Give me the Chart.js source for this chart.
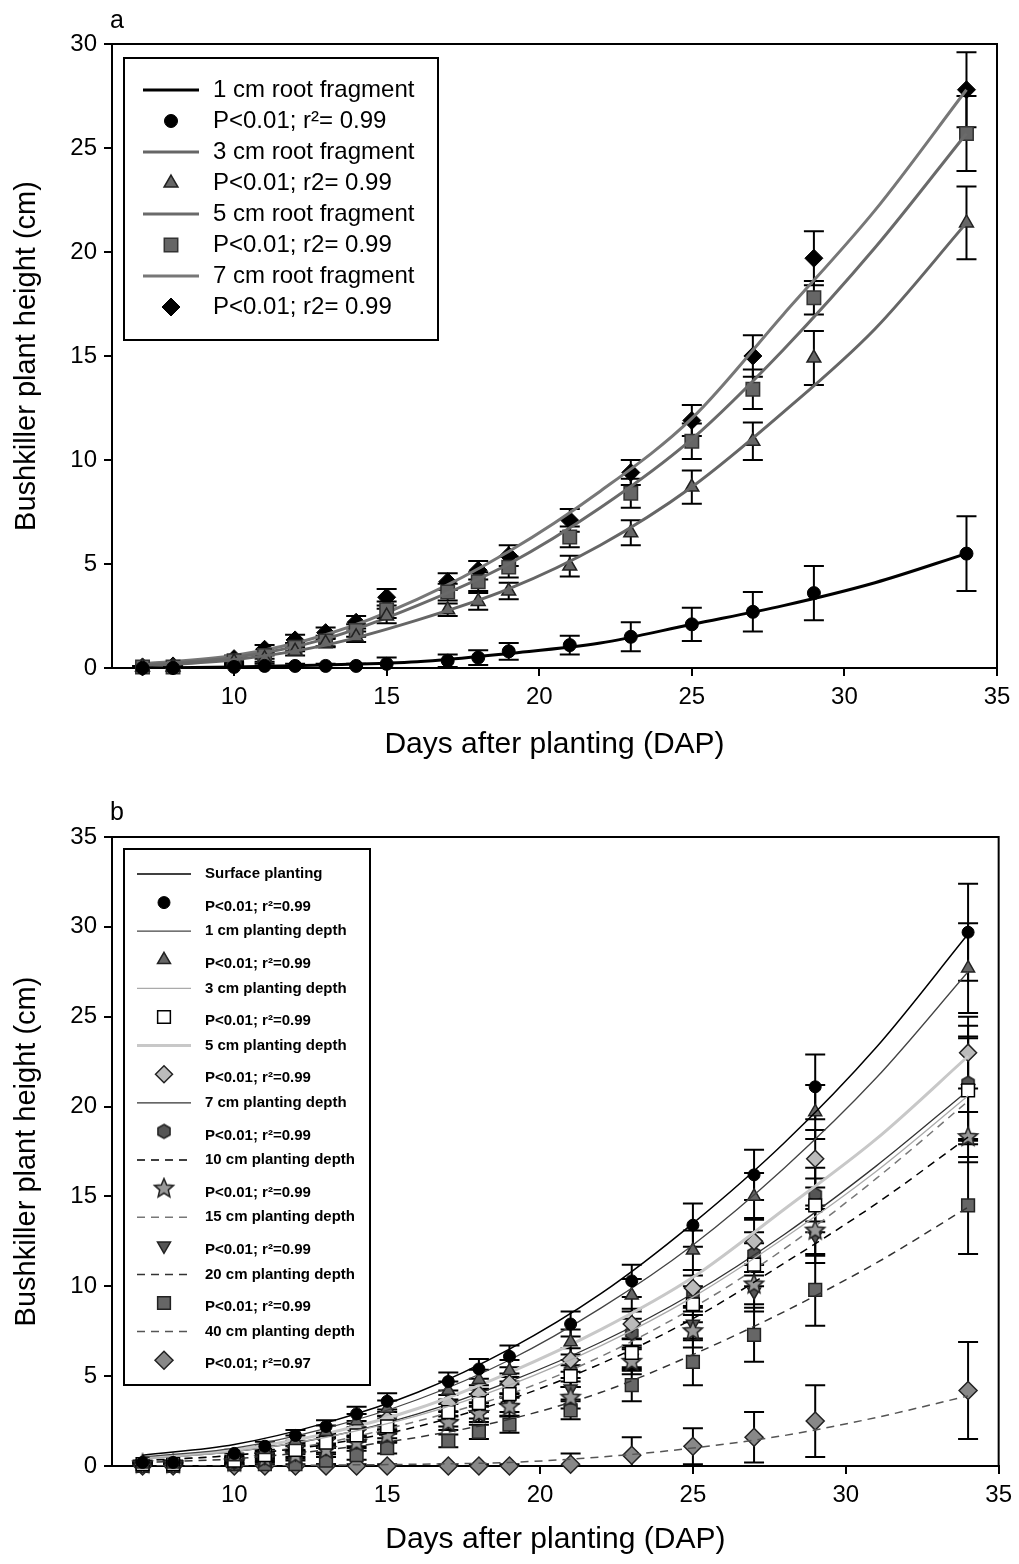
<!DOCTYPE html>
<html>
<head>
<meta charset="utf-8">
<script src="https://cdn.jsdelivr.net/npm/chart.js@4.4.1/dist/chart.umd.min.js"></script>
<style>
  body { margin: 0; background: #fff; }
  .panel { position: absolute; left: 0; width: 1019px; height: 782px; }
  #wrapA { top: 0; }
  #wrapB { top: 782px; }
</style>
</head>
<body>
<div class="panel" id="wrapA"><canvas id="chartA" width="1019" height="782"></canvas></div>
<div class="panel" id="wrapB"><canvas id="chartB" width="1019" height="782"></canvas></div>
<script>
const days = [7, 8, 10, 11, 12, 13, 14, 15, 17, 18, 19, 21, 23, 25, 27, 29, 34];
const fitDays = [7, 10, 13, 16, 19, 22, 25, 28, 31, 34];
const xTicks = [10, 15, 20, 25, 30, 35];
const yTicksA = [0, 5, 10, 15, 20, 25, 30];
const yTicksB = [0, 5, 10, 15, 20, 25, 30, 35];

// ---- panel a : root fragment length ----
const namesA = ['1 cm root fragment', '3 cm root fragment', '5 cm root fragment', '7 cm root fragment'];
const statsA = ['P<0.01; r²= 0.99', 'P<0.01; r2= 0.99', 'P<0.01; r2= 0.99', 'P<0.01; r2= 0.99'];

const frag1 = [0.0, 0.0, 0.05, 0.1, 0.1, 0.1, 0.1, 0.2, 0.35, 0.5, 0.8, 1.1, 1.5, 2.1, 2.7, 3.6, 5.5];
const frag3 = [0.05, 0.05, 0.3, 0.45, 0.8, 1.2, 1.5, 2.5, 2.8, 3.2, 3.7, 4.9, 6.5, 8.7, 10.9, 14.9, 21.4];
const frag5 = [0.05, 0.05, 0.35, 0.6, 1.0, 1.3, 1.8, 2.8, 3.65, 4.15, 4.85, 6.3, 8.4, 10.9, 13.4, 17.8, 25.7];
const frag7 = [0.05, 0.1, 0.45, 0.9, 1.35, 1.7, 2.2, 3.4, 4.15, 4.7, 5.4, 7.1, 9.4, 11.9, 15.0, 19.7, 27.8];

const errFrag1 = [0.1, 0.1, 0.1, 0.1, 0.1, 0.1, 0.1, 0.3, 0.3, 0.35, 0.4, 0.45, 0.7, 0.8, 0.95, 1.3, 1.8];
const errFrag3 = [0.05, 0.05, 0.1, 0.15, 0.2, 0.2, 0.25, 0.35, 0.3, 0.4, 0.4, 0.5, 0.6, 0.8, 0.9, 1.3, 1.75];
const errFrag5 = [0.05, 0.05, 0.1, 0.15, 0.2, 0.25, 0.3, 0.4, 0.4, 0.45, 0.5, 0.5, 0.7, 0.85, 0.95, 0.8, 1.8];
const errFrag7 = [0.05, 0.05, 0.15, 0.2, 0.25, 0.25, 0.3, 0.4, 0.4, 0.45, 0.5, 0.55, 0.6, 0.75, 1.0, 1.3, 1.8];

const fitFrag1 = [0.0, 0.05, 0.15, 0.3, 0.7, 1.2, 2.1, 3.0, 4.1, 5.5];
const fitFrag3 = [0.1, 0.4, 1.1, 2.3, 3.8, 5.9, 8.7, 12.3, 16.3, 21.4];
const fitFrag5 = [0.15, 0.5, 1.4, 3.0, 5.0, 7.7, 11.0, 15.3, 20.2, 25.7];
const fitFrag7 = [0.2, 0.6, 1.6, 3.3, 5.6, 8.5, 12.0, 17.0, 22.0, 27.8];

// ---- panel b : planting depth ----
const namesB = ['Surface planting', '1 cm planting depth', '3 cm planting depth', '5 cm planting depth',
  '7 cm planting depth', '10 cm planting depth', '15 cm planting depth', '20 cm planting depth', '40 cm planting depth'];
const statsB = ['P<0.01; r²=0.99', 'P<0.01; r²=0.99', 'P<0.01; r²=0.99', 'P<0.01; r²=0.99', 'P<0.01; r²=0.99',
  'P<0.01; r²=0.99', 'P<0.01; r²=0.99', 'P<0.01; r²=0.99', 'P<0.01; r²=0.97'];

const depth0 = [0.2, 0.2, 0.7, 1.1, 1.7, 2.2, 2.9, 3.6, 4.7, 5.4, 6.1, 7.9, 10.3, 13.4, 16.2, 21.1, 29.7];
const depth1 = [0.1, 0.1, 0.5, 0.9, 1.4, 1.9, 2.5, 3.2, 4.2, 4.8, 5.3, 6.9, 9.5, 12.0, 15.0, 19.7, 27.7];
const depth3 = [0.1, 0.1, 0.3, 0.6, 0.9, 1.3, 1.7, 2.2, 3.0, 3.5, 4.0, 5.0, 6.3, 9.0, 11.2, 14.5, 20.9];
const depth5 = [0.1, 0.1, 0.4, 0.7, 1.1, 1.5, 2.0, 2.6, 3.5, 4.0, 4.6, 5.9, 7.9, 9.9, 12.5, 17.1, 23.0];
const depth7 = [0.1, 0.1, 0.3, 0.6, 1.0, 1.4, 1.8, 2.4, 3.2, 3.8, 4.4, 5.3, 7.4, 9.6, 11.8, 15.1, 21.3];
const depth10 = [0.1, 0.1, 0.2, 0.4, 0.6, 0.9, 1.3, 1.7, 2.4, 2.9, 3.3, 3.8, 5.8, 7.5, 10.1, 13.1, 18.3];
const depth15 = [0.1, 0.1, 0.2, 0.5, 0.7, 1.0, 1.4, 1.9, 2.6, 3.1, 3.5, 4.3, 6.0, 7.9, 9.7, 12.8, 21.0];
const depth20 = [0.0, 0.0, 0.1, 0.1, 0.1, 0.3, 0.6, 1.0, 1.4, 1.9, 2.3, 3.1, 4.5, 5.8, 7.3, 9.8, 14.5];
const depth40 = [0, 0, 0, 0, 0, 0, 0, 0, 0, 0, 0, 0.1, 0.6, 1.1, 1.6, 2.5, 4.2];

const errDepth0 = [0.1, 0.1, 0.2, 0.25, 0.3, 0.35, 0.4, 0.45, 0.5, 0.55, 0.6, 0.7, 0.9, 1.2, 1.4, 1.8, 2.7];
const errDepth1 = [0.1, 0.1, 0.2, 0.25, 0.3, 0.35, 0.4, 0.45, 0.5, 0.55, 0.6, 0.7, 0.9, 1.1, 1.3, 1.5, 2.5];
const errDepth3 = [0.1, 0.1, 0.15, 0.2, 0.25, 0.3, 0.35, 0.4, 0.45, 0.5, 0.55, 0.6, 0.8, 1.0, 1.2, 1.5, 3.0];
const errDepth5 = [0.1, 0.1, 0.15, 0.2, 0.25, 0.3, 0.35, 0.4, 0.45, 0.5, 0.55, 0.65, 0.85, 1.0, 1.3, 1.6, 2.0];
const errDepth7 = [0.1, 0.1, 0.15, 0.2, 0.25, 0.3, 0.35, 0.4, 0.45, 0.5, 0.55, 0.6, 0.8, 1.0, 1.2, 1.5, 3.2];
const errDepth10 = [0.1, 0.1, 0.15, 0.2, 0.2, 0.25, 0.3, 0.35, 0.4, 0.45, 0.5, 0.6, 0.7, 0.9, 1.1, 1.4, 1.4];
const errDepth15 = [0.1, 0.1, 0.15, 0.2, 0.2, 0.25, 0.3, 0.35, 0.4, 0.45, 0.5, 0.6, 0.7, 0.9, 1.1, 1.5, 2.8];
const errDepth20 = [0.1, 0.1, 0.1, 0.15, 0.2, 0.2, 0.25, 0.3, 0.35, 0.4, 0.45, 0.5, 0.9, 1.3, 1.5, 2.0, 2.7];
const errDepth40 = [0.1, 0.1, 0.1, 0.1, 0.1, 0.1, 0.1, 0.1, 0.1, 0.1, 0.1, 0.6, 1.0, 1.0, 1.4, 2.0, 2.7];

const fitDepth0 = [0.6, 1.2, 2.4, 4.1, 6.5, 9.6, 13.5, 18.0, 23.3, 29.6];
const fitDepth1 = [0.5, 1.0, 2.1, 3.7, 5.9, 8.8, 12.3, 16.6, 21.6, 27.5];
const fitDepth3 = [0.4, 0.8, 1.6, 2.8, 4.5, 6.7, 9.4, 12.7, 16.4, 20.6];
const fitDepth5 = [0.4, 0.9, 1.8, 3.2, 5.2, 7.6, 10.5, 14.3, 18.2, 22.8];
const fitDepth7 = [0.4, 0.8, 1.6, 2.9, 4.7, 6.9, 9.6, 12.9, 16.7, 20.9];
const fitDepth10 = [0.3, 0.6, 1.2, 2.2, 3.7, 5.7, 8.2, 11.3, 14.6, 18.3];
const fitDepth15 = [0.3, 0.6, 1.3, 2.5, 4.0, 6.1, 8.8, 12.1, 16.0, 20.3];
const fitDepth20 = [0.2, 0.4, 0.9, 1.6, 2.6, 4.1, 6.2, 8.6, 11.3, 14.4];
const fitDepth40 = [0.0, 0.0, 0.05, 0.1, 0.2, 0.5, 1.0, 1.7, 2.7, 3.9];

const FONT = "'Liberation Sans', Arial, sans-serif";

function pts(xs, ys) {
  return xs.map((x, i) => ({ x, y: ys[i] }));
}

// small canvases used as marker shapes that Chart.js lacks
function polyMarker(n, r, fill, stroke, inner) {
  const size = Math.ceil(r * 2 + 4);
  const c = document.createElement('canvas');
  c.width = size; c.height = size;
  const g = c.getContext('2d');
  const cx = size / 2, cy = size / 2;
  g.beginPath();
  const steps = inner ? n * 2 : n;
  for (let i = 0; i < steps; i++) {
    const a = -Math.PI / 2 + i * Math.PI * 2 / steps;
    const rr = inner && i % 2 ? r * inner : r;
    const px = cx + rr * Math.cos(a), py = cy + rr * Math.sin(a);
    if (i === 0) g.moveTo(px, py); else g.lineTo(px, py);
  }
  g.closePath();
  g.fillStyle = fill; g.fill();
  g.lineWidth = 1.5; g.strokeStyle = stroke; g.stroke();
  return c;
}

function seriesPair(name, stat, vals, errs, fit, line, mark) {
  return [
    {
      label: name, data: pts(fitDays, fit), borderColor: line.color, borderWidth: line.width,
      borderDash: line.dash || [], pointRadius: 0, cubicInterpolationMode: 'monotone', fill: false,
      legendLine: line
    },
    {
      label: stat, data: pts(days, vals), errors: errs, showLine: false, clip: false,
      pointStyle: mark.style, pointRadius: mark.r, pointRotation: mark.rot || 0,
      pointBackgroundColor: mark.fill, pointBorderColor: mark.stroke, pointBorderWidth: mark.bw,
      legendMark: mark
    }
  ];
}

const frame = {
  id: 'frame',
  beforeDatasetsDraw(chart) {
    const { ctx, chartArea: a } = chart;
    ctx.save();
    ctx.strokeStyle = '#000';
    ctx.lineWidth = 2;
    ctx.strokeRect(a.left, a.top, a.right - a.left, a.bottom - a.top);
    ctx.restore();
  }
};

const errorBars = {
  id: 'errorBars',
  beforeDatasetsDraw(chart, args, opts) {
    const { ctx, scales: { x, y } } = chart;
    ctx.save();
    ctx.strokeStyle = '#000';
    ctx.lineWidth = opts.width;
    chart.data.datasets.forEach(ds => {
      if (!ds.errors) return;
      ds.data.forEach((p, i) => {
        const e = ds.errors[i];
        if (!e) return;
        const px = x.getPixelForValue(p.x);
        const top = y.getPixelForValue(p.y + e);
        const bot = y.getPixelForValue(Math.max(p.y - e, 0));
        ctx.beginPath();
        ctx.moveTo(px, top); ctx.lineTo(px, bot);
        ctx.moveTo(px - opts.cap, top); ctx.lineTo(px + opts.cap, top);
        ctx.moveTo(px - opts.cap, bot); ctx.lineTo(px + opts.cap, bot);
        ctx.stroke();
      });
    });
    ctx.restore();
  }
};

const boxLegend = {
  id: 'boxLegend',
  afterDraw(chart, args, o) {
    const ctx = chart.ctx;
    ctx.save();
    ctx.fillStyle = '#fff';
    ctx.fillRect(o.left, o.top, o.right - o.left, o.bottom - o.top);
    ctx.strokeStyle = '#000';
    ctx.lineWidth = 2;
    ctx.strokeRect(o.left, o.top, o.right - o.left, o.bottom - o.top);
    ctx.font = o.font;
    ctx.textBaseline = 'middle';
    chart.data.datasets.forEach((ds, i) => {
      const yy = o.firstRow + i * o.step;
      if (ds.legendLine) {
        const l = ds.legendLine;
        ctx.save();
        ctx.strokeStyle = l.color;
        ctx.lineWidth = l.width;
        ctx.setLineDash(l.dash || []);
        ctx.beginPath();
        ctx.moveTo(o.symX1, yy); ctx.lineTo(o.symX2, yy);
        ctx.stroke();
        ctx.restore();
        ctx.fillStyle = '#000';
        ctx.fillText(ds.label, o.textX, yy);
      } else {
        const m = ds.legendMark;
        ctx.save();
        ctx.fillStyle = m.fill;
        ctx.strokeStyle = m.stroke;
        ctx.lineWidth = m.bw;
        Chart.helpers.drawPoint(ctx, { pointStyle: m.style, radius: m.r, rotation: m.rot || 0, borderWidth: m.bw },
          (o.symX1 + o.symX2) / 2, yy);
        ctx.restore();
        ctx.fillStyle = '#000';
        ctx.fillText(ds.label, o.textX, yy + o.statDy);
      }
    });
    // panel letter
    ctx.font = o.tagFont;
    ctx.textBaseline = 'alphabetic';
    ctx.fillText(o.tag, o.tagX, o.tagY);
    ctx.restore();
  }
};

function makeOptions(cfg) {
  return {
    responsive: false,
    animation: false,
    devicePixelRatio: 1,
    layout: { padding: { top: cfg.top, right: cfg.right, left: 0, bottom: 0 } },
    plugins: {
      legend: { display: false },
      tooltip: { enabled: false },
      errorBars: { width: 2, cap: 10 },
      boxLegend: cfg.legend
    },
    scales: {
      x: {
        type: 'linear', min: 6, max: 35,
        afterBuildTicks: axis => { axis.ticks = xTicks.map(v => ({ value: v })); },
        afterFit: s => { s.height = cfg.xHeight; },
        border: { display: true, color: '#000', width: 2 },
        grid: { display: true, drawOnChartArea: false, drawTicks: true, tickLength: 8, color: '#000', lineWidth: 2 },
        ticks: { color: '#000', font: { family: FONT, size: 24 }, padding: 7, maxRotation: 0 },
        title: { display: true, text: 'Days after planting (DAP)', color: '#000',
          font: { family: FONT, size: 30 }, padding: { top: 0, bottom: cfg.xTitlePad } }
      },
      y: {
        min: 0, max: cfg.yMax,
        afterBuildTicks: axis => { axis.ticks = cfg.yTicks.map(v => ({ value: v })); },
        afterFit: s => { s.width = 112; },
        border: { display: true, color: '#000', width: 2 },
        grid: { display: true, drawOnChartArea: false, drawTicks: true, tickLength: 8, color: '#000', lineWidth: 2 },
        ticks: { color: '#000', font: { family: FONT, size: 24 }, padding: 7 },
        title: { display: true, text: 'Bushkiller plant height (cm)', color: '#000',
          font: { family: FONT, size: 29 }, padding: { top: 10, bottom: 0 } }
      }
    }
  };
}

// ---- styles (kept apart from the data) ----
const lineA = [
  { color: '#000', width: 3 },
  { color: '#666', width: 3 },
  { color: '#6a6a6a', width: 3 },
  { color: '#777', width: 3 }
];
const markA = [
  { style: 'circle', r: 6.5, fill: '#000', stroke: '#000', bw: 1 },
  { style: 'triangle', r: 8, fill: '#666', stroke: '#222', bw: 1.5 },
  { style: 'rect', r: 9.5, fill: '#666', stroke: '#333', bw: 1.5 },
  { style: 'rectRot', r: 9, fill: '#000', stroke: '#000', bw: 1 }
];

const hexMark = polyMarker(6, 7, '#555', '#222');
const starMark = polyMarker(5, 10, '#999', '#222', 0.45);

const lineB = [
  { color: '#000', width: 1.5 },
  { color: '#444', width: 1.3 },
  { color: '#aaa', width: 1.3 },
  { color: '#c8c8c8', width: 3 },
  { color: '#333', width: 1.3 },
  { color: '#000', width: 1.5, dash: [8, 6] },
  { color: '#777', width: 1.5, dash: [8, 6] },
  { color: '#333', width: 1.5, dash: [8, 6] },
  { color: '#555', width: 1.5, dash: [8, 6] }
];
const markB = [
  { style: 'circle', r: 6, fill: '#000', stroke: '#000', bw: 1 },
  { style: 'triangle', r: 7.5, fill: '#666', stroke: '#222', bw: 1.5 },
  { style: 'rect', r: 9, fill: '#fff', stroke: '#000', bw: 1.5 },
  { style: 'rectRot', r: 8.5, fill: '#bbb', stroke: '#222', bw: 1.5 },
  { style: hexMark, r: 7, fill: '#555', stroke: '#222', bw: 1.5 },
  { style: starMark, r: 10, fill: '#999', stroke: '#222', bw: 1.5 },
  { style: 'triangle', r: 7.5, rot: 180, fill: '#555', stroke: '#222', bw: 1.5 },
  { style: 'rect', r: 9, fill: '#666', stroke: '#222', bw: 1.5 },
  { style: 'rectRot', r: 9, fill: '#888', stroke: '#222', bw: 1.5 }
];

const valsA = [frag1, frag3, frag5, frag7];
const errsA = [errFrag1, errFrag3, errFrag5, errFrag7];
const fitsA = [fitFrag1, fitFrag3, fitFrag5, fitFrag7];

const valsB = [depth0, depth1, depth3, depth5, depth7, depth10, depth15, depth20, depth40];
const errsB = [errDepth0, errDepth1, errDepth3, errDepth5, errDepth7, errDepth10, errDepth15, errDepth20, errDepth40];
const fitsB = [fitDepth0, fitDepth1, fitDepth3, fitDepth5, fitDepth7, fitDepth10, fitDepth15, fitDepth20, fitDepth40];

const datasetsA = namesA.flatMap((n, i) => seriesPair(n, statsA[i], valsA[i], errsA[i], fitsA[i], lineA[i], markA[i]));
const datasetsB = namesB.flatMap((n, i) => seriesPair(n, statsB[i], valsB[i], errsB[i], fitsB[i], lineB[i], markB[i]));

new Chart(document.getElementById('chartA'), {
  type: 'line',
  data: { datasets: datasetsA },
  options: makeOptions({
    top: 44, right: 22, xHeight: 114, xTitlePad: 19, yMax: 30, yTicks: yTicksA,
    legend: {
      left: 124, top: 58, right: 438, bottom: 340,
      firstRow: 90, step: 31, symX1: 143, symX2: 199, textX: 213, statDy: 0,
      font: '24px ' + FONT,
      tag: 'a', tagX: 110, tagY: 28, tagFont: '25px ' + FONT
    }
  }),
  plugins: [frame, errorBars, boxLegend]
});

new Chart(document.getElementById('chartB'), {
  type: 'line',
  data: { datasets: datasetsB },
  options: makeOptions({
    top: 55, right: 19, xHeight: 98, xTitlePad: 6, yMax: 35, yTicks: yTicksB,
    legend: {
      left: 124, top: 67, right: 370, bottom: 603,
      firstRow: 92, step: 28.6, symX1: 137, symX2: 191, textX: 205, statDy: 4,
      font: 'bold 15px ' + FONT,
      tag: 'b', tagX: 110, tagY: 38, tagFont: '25px ' + FONT
    }
  }),
  plugins: [frame, errorBars, boxLegend]
});
</script>
</body>
</html>
